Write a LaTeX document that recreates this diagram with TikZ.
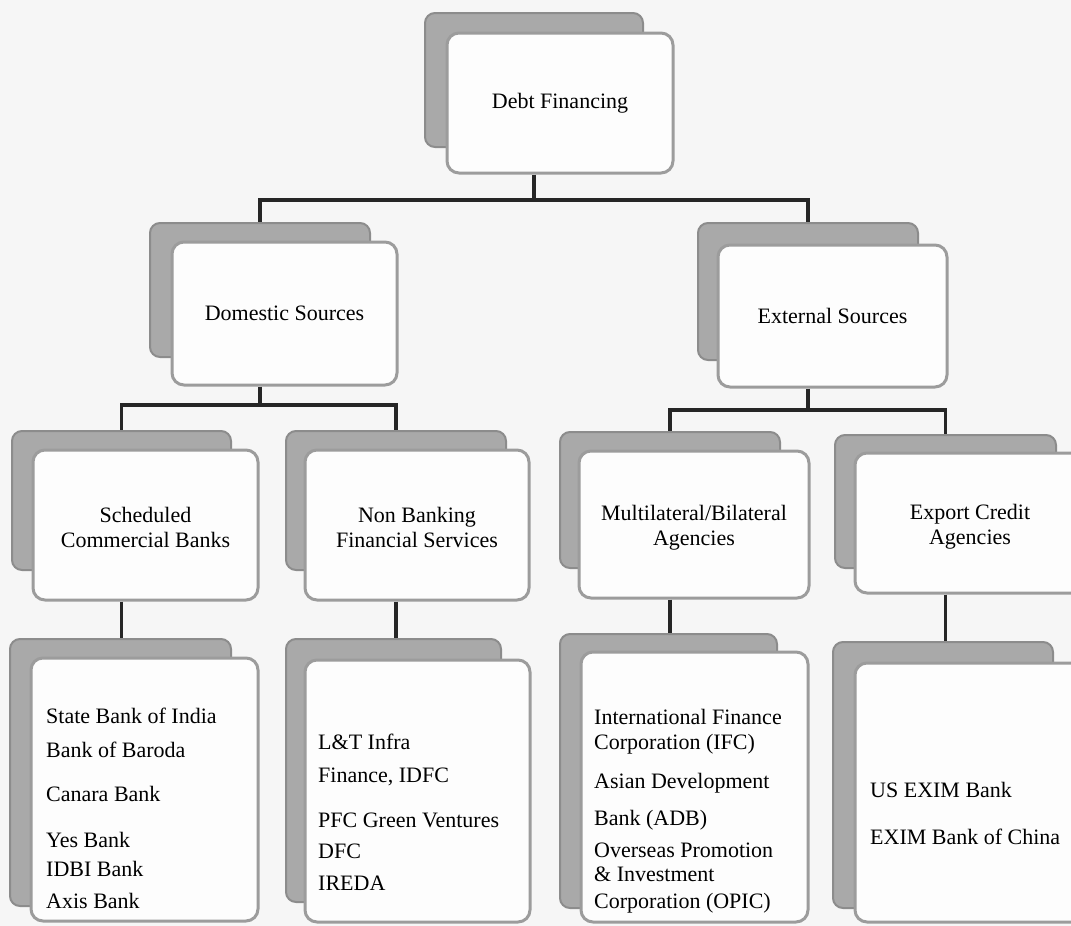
\documentclass[tikz,border=0pt]{standalone}
\usepackage{fontspec}
\setmainfont{Liberation Serif}
\definecolor{bgpaper}{HTML}{F6F6F6}
\definecolor{backfill}{HTML}{A9A9A9}
\definecolor{backline}{HTML}{8C8C8C}
\definecolor{frontline}{HTML}{9C9C9C}
\definecolor{frontfill}{HTML}{FDFDFD}
\definecolor{linkcol}{HTML}{262626}
\tikzset{
  backbox/.style={draw=backline, fill=backfill, line width=2pt, rounded corners=10pt, inner sep=0pt},
  frontbox/.style={draw=frontline, fill=frontfill, line width=3pt, rounded corners=12pt, inner sep=0pt},
  mid/.style={align=center, inner sep=0pt, font=\fontsize{22}{25}\selectfont},
  item/.style={anchor=base west, inner sep=0pt, font=\fontsize{22}{25}\selectfont},
  link/.style={draw=linkcol, line width=3.5pt}
}
\newcommand\boxpair[9]{%
  \node[backbox, minimum width={(#4-#2)*1pt}, minimum height={(#5-#3)*1pt}] (#1B) at ({(#2+#4)/2},{(#3+#5)/2}) {};
  \node[frontbox, minimum width={(#8-#6)*1pt}, minimum height={(#9-#7)*1pt}] (#1F) at ({(#6+#8)/2},{(#7+#9)/2}) {};
}
\begin{document}
\begin{tikzpicture}[x=1pt, y=-1pt]
\fill[bgpaper] (0,0) rectangle (1071,926);
\useasboundingbox (0,0) rectangle (1071,926);

\coordinate (busA) at (0,200);
\coordinate (busB) at (0,405);
\coordinate (busC) at (0,410);

\boxpair{df}{425}{13}{643}{147}{447}{33}{673}{173}
\boxpair{ds}{150}{223}{370}{357}{172}{242}{397}{385}
\boxpair{es}{698}{223}{918}{360}{718}{245}{947}{387}
\boxpair{sc}{12}{431}{231}{570}{33}{450}{258}{600}
\boxpair{nb}{286}{431}{506}{570}{305}{450}{529}{600}
\boxpair{mb}{560}{432}{780}{568}{579}{451}{809}{598}
\boxpair{ec}{835}{435}{1056}{568}{855}{453}{1087}{593}
\boxpair{sl}{10}{639}{231}{906}{31}{658}{258}{921}
\boxpair{nl}{286}{639}{501}{902}{305}{660}{530}{922}
\boxpair{ml}{560}{634}{777}{908}{581}{652}{808}{922}
\boxpair{el}{833}{642}{1053}{908}{855}{663}{1085}{922}

\draw[link] (dfF.south -| dfB.center) -- (dfB.center |- busA) -| (dsB.north);
\draw[link] (dfB.center |- busA) -| (esB.north);
\draw[link] (dsF.south -| dsB.center) -- (dsB.center |- busB) -| (scB.north);
\draw[link] (dsB.center |- busB) -| (nbB.north);
\draw[link] (esF.south -| esB.center) -- (esB.center |- busC) -| (mbB.north);
\draw[link] (esB.center |- busC) -| (ecB.north);
\draw[link] (scF.south -| scB.center) -- (slB.north -| scB.center);
\draw[link] (nbF.south -| nbB.center) -- (nlB.north -| nbB.center);
\draw[link] (mbF.south -| mbB.center) -- (mlB.north -| mbB.center);
\draw[link] (ecF.south -| ecB.center) -- (elB.north -| ecB.center);

\node[mid] (dft) at (dfF.center) {Debt Financing};
\node[mid] (dst) at (dsF.center) {Domestic Sources};
\node[mid] (est) at (esF.center) {External Sources};
\node[mid] (sct) at (145.5,527) {Scheduled\\Commercial Banks};
\node[mid] (nbt) at (417,527) {Non Banking\\Financial Services};
\node[mid] (mbt) at (694,528) {Multilateral/Bilateral\\Agencies};
\node[mid] (ect) at (970,527) {Export Credit\\Agencies};

\node[item] (s1) at (46,723) {State Bank of India};
\node[item] (s2) at (46,757) {Bank of Baroda};
\node[item] (s3) at (46,801) {Canara Bank};
\node[item] (s4) at (46,847) {Yes Bank};
\node[item] (s5) at (46,876) {IDBI Bank};
\node[item] (s6) at (46,908) {Axis Bank};

\node[item] (n1) at (318,749) {L\&T Infra};
\node[item] (n2) at (318,782) {Finance, IDFC};
\node[item] (n3) at (318,827) {PFC Green Ventures};
\node[item] (n4) at (318,858) {DFC};
\node[item] (n5) at (318,890) {IREDA};

\node[item] (m1) at (594,724) {International Finance};
\node[item] (m2) at (594,749) {Corporation (IFC)};
\node[item] (m3) at (594,788) {Asian Development};
\node[item] (m4) at (594,825) {Bank (ADB)};
\node[item] (m5) at (594,857) {Overseas Promotion};
\node[item] (m6) at (594,881) {\& Investment};
\node[item] (m7) at (594,908) {Corporation (OPIC)};

\node[item] (e1) at (870,797) {US EXIM Bank};
\node[item] (e2) at (870,844) {EXIM Bank of China};
\end{tikzpicture}
\end{document}
